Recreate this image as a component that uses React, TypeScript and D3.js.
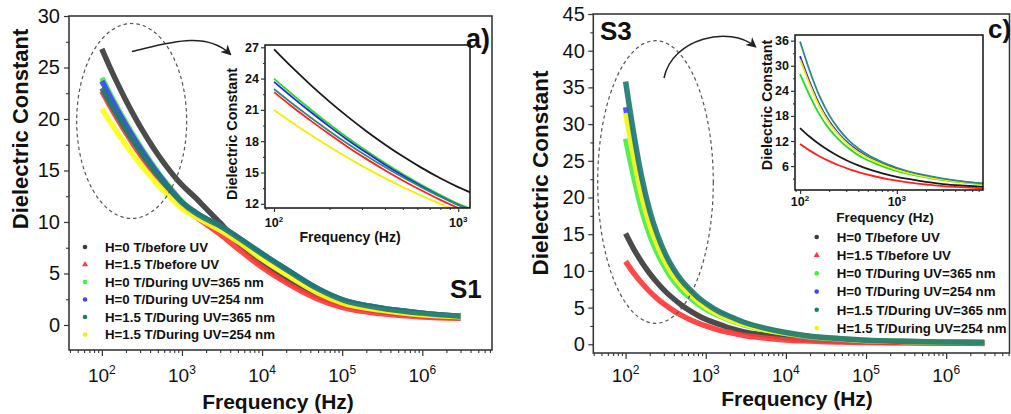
import React, { useEffect, useRef } from 'react';
import * as d3 from 'd3';

// ---------- data ----------
const FREQ = [100, 125, 160, 200, 250, 320, 400, 500, 630, 800, 1000, 1500, 2000, 3000, 5000, 1e4, 2e4, 5e4, 1e5, 3e5, 1e6, 3e6];

const LEGEND = [
  'H=0 T/before UV',
  'H=1.5 T/before UV',
  'H=0 T/During UV=365 nm',
  'H=0 T/During UV=254 nm',
  'H=1.5 T/During UV=365 nm',
  'H=1.5 T/During UV=254 nm',
];
const BAND_COLORS = ['#3c3c3c', '#ff3a3a', '#44ee44', '#4444ff', '#1f7b72', '#ffff1e'];
const LINE_COLORS = ['#1a1a1a', '#ff2020', '#22dd22', '#2424ee', '#2e8a80', '#f0f000'];
const MARKERS = ['circle', 'triangle', 'circle', 'circle', 'circle', 'circle'];
const DRAW_ORDER = [0, 1, 2, 3, 5, 4];

// S1 (panel a)
const S1_H0_BEFORE = [26.8, 25.09, 23.31, 21.8, 20.38, 18.91, 17.69, 16.55, 15.47, 14.45, 13.6, 12.3, 11.3, 9.9, 8.0, 5.9, 4.4, 2.8, 2.0, 1.3, 0.9, 0.7];
const S1_H15_BEFORE = [22.7, 21.33, 19.9, 18.66, 17.48, 16.26, 15.22, 14.24, 13.3, 12.38, 11.6, 10.5, 9.8, 8.8, 7.4, 5.6, 4.1, 2.5, 1.7, 1.1, 0.78, 0.65];
const S1_H0_UV365 = [24.0, 22.52, 20.97, 19.63, 18.36, 17.04, 15.91, 14.85, 13.83, 12.85, 12.0, 10.9, 10.3, 9.6, 8.5, 6.9, 5.4, 3.5, 2.45, 1.65, 1.15, 0.85];
const S1_H0_UV254 = [23.7, 22.25, 20.72, 19.4, 18.15, 16.86, 15.75, 14.71, 13.7, 12.73, 11.9, 10.9, 10.3, 9.6, 8.5, 6.9, 5.4, 3.5, 2.45, 1.65, 1.15, 0.85];
const S1_H15_UV365 = [23.0, 21.63, 20.2, 18.96, 17.78, 16.56, 15.52, 14.54, 13.6, 12.68, 11.9, 10.85, 10.3, 9.6, 8.5, 6.9, 5.4, 3.5, 2.45, 1.65, 1.15, 0.85];
const S1_H15_UV254 = [21.0, 19.8, 18.55, 17.47, 16.44, 15.37, 14.46, 13.61, 12.78, 11.99, 11.3, 10.5, 9.95, 9.2, 8.1, 6.4, 4.9, 3.1, 2.15, 1.45, 1.0, 0.8];

// S3 (panel c)
const S3_H0_BEFORE = [15.1, 13.08, 11.15, 9.65, 8.35, 7.11, 6.17, 5.33, 4.59, 3.93, 3.4, 2.7, 2.2, 1.7, 1.3, 0.9, 0.65, 0.42, 0.33, 0.24, 0.2, 0.18];
const S3_H15_BEFORE = [11.3, 9.76, 8.31, 7.18, 6.2, 5.28, 4.56, 3.94, 3.39, 2.9, 2.5, 1.9, 1.6, 1.2, 0.9, 0.6, 0.45, 0.3, 0.25, 0.2, 0.15, 0.12];
const S3_H0_UV365 = [28.0, 23.0, 18.2, 14.9, 12.4, 10.2, 8.6, 7.4, 6.4, 5.5, 4.8, 3.85, 3.3, 2.65, 2.05, 1.45, 1.0, 0.7, 0.5, 0.38, 0.3, 0.25];
const S3_H0_UV254 = [32.3, 26.3, 20.6, 16.7, 13.8, 11.3, 9.6, 8.2, 7.1, 6.1, 5.3, 4.2, 3.6, 2.9, 2.2, 1.55, 1.05, 0.72, 0.52, 0.38, 0.3, 0.25];
const S3_H15_UV365 = [35.8, 29.0, 22.6, 18.2, 14.9, 12.1, 10.2, 8.7, 7.5, 6.4, 5.6, 4.4, 3.8, 3.0, 2.3, 1.6, 1.1, 0.75, 0.55, 0.4, 0.3, 0.25];
const S3_H15_UV254 = [31.5, 25.7, 20.1, 16.3, 13.5, 11.0, 9.3, 8.0, 6.9, 5.9, 5.1, 4.0, 3.4, 2.75, 2.1, 1.5, 1.05, 0.72, 0.52, 0.38, 0.3, 0.25];

const S1_SERIES = [S1_H0_BEFORE, S1_H15_BEFORE, S1_H0_UV365, S1_H0_UV254, S1_H15_UV365, S1_H15_UV254];
const S3_SERIES = [S3_H0_BEFORE, S3_H15_BEFORE, S3_H0_UV365, S3_H0_UV254, S3_H15_UV365, S3_H15_UV254];

const MAIN_X_MAJOR = [1e2, 1e3, 1e4, 1e5, 1e6];
const S1_Y_TICKS = [0, 5, 10, 15, 20, 25, 30];
const S3_Y_TICKS = [0, 5, 10, 15, 20, 25, 30, 35, 40, 45];
const S1_INSET_Y_TICKS = [12, 15, 18, 21, 24, 27];
const S3_INSET_Y_TICKS = [6, 12, 18, 24, 30, 36];
const INSET_X_MAJOR = [1e2, 1e3];

const FONT = '"Liberation Sans", Arial, Helvetica, sans-serif';

type Box = { x0: number; x1: number; y0: number; y1: number };

function logMinor(domain: [number, number]) {
  const out: number[] = [];
  for (let e = 0; e < 8; e++) {
    for (let k = 2; k <= 9; k++) {
      const v = k * Math.pow(10, e);
      if (v >= domain[0] && v <= domain[1]) out.push(v);
    }
  }
  return out;
}

function minorLinear(ticks: number[], domain: [number, number], step: number) {
  const out: number[] = [];
  for (let v = ticks[0] - step * 4; v <= domain[1]; v += step) {
    const r = Math.round(v * 1000) / 1000;
    if (r >= domain[0] && r <= domain[1] && !ticks.some((t) => Math.abs(t - r) < 1e-6)) out.push(r);
  }
  return out;
}

function supLabel(g: any, x: number, y: number, exp: number, size: number, supSize: number, bold: boolean, supDy: number) {
  const t = g
    .append('text')
    .attr('x', x)
    .attr('y', y)
    .attr('text-anchor', 'middle')
    .attr('font-family', FONT)
    .attr('font-size', size)
    .attr('font-weight', bold ? 'bold' : 'normal')
    .attr('fill', '#111');
  t.append('tspan').text('10');
  t.append('tspan').attr('font-size', supSize).attr('dy', -supDy).text(String(exp));
}

function drawPanel(
  svg: any,
  id: string,
  box: Box,
  xd: [number, number],
  yd: [number, number],
  yTicks: number[],
  yMinorStep: number,
  xMajor: number[],
  series: number[][],
  inset: boolean,
  opts: any
) {
  const g = svg.append('g');
  const xs = d3.scaleLog().domain(xd).range([box.x0, box.x1]);
  const ys = d3.scaleLinear().domain(yd).range([box.y1, box.y0]);

  g.append('clipPath')
    .attr('id', id)
    .append('rect')
    .attr('x', box.x0)
    .attr('y', box.y0)
    .attr('width', box.x1 - box.x0)
    .attr('height', box.y1 - box.y0);

  const line = d3
    .line<number>()
    .x((_d, i) => xs(FREQ[i]))
    .y((d) => ys(d))
    .curve(d3.curveMonotoneX);
  const dataG = g.append('g').attr('clip-path', `url(#${id})`);
  DRAW_ORDER.forEach((si) => {
    dataG
      .append('path')
      .attr('d', line(series[si]))
      .attr('fill', 'none')
      .attr('stroke', inset ? LINE_COLORS[si] : BAND_COLORS[si])
      .attr('stroke-width', inset ? 1.8 : 5.5)
      .attr('stroke-opacity', inset ? 1 : 0.92);
  });

  g.append('rect')
    .attr('x', box.x0)
    .attr('y', box.y0)
    .attr('width', box.x1 - box.x0)
    .attr('height', box.y1 - box.y0)
    .attr('fill', 'none')
    .attr('stroke', inset ? '#111' : '#3a3a3a')
    .attr('stroke-width', inset ? 1.5 : 1.6);

  const majorLen = inset ? 4 : 5;
  const minorLen = inset ? 2 : 3;

  const yAx = g
    .append('g')
    .attr('transform', `translate(${box.x0},0)`)
    .call(
      d3
        .axisLeft(ys)
        .tickValues(yTicks)
        .tickSize(majorLen)
        .tickPadding(opts.yPad)
        .tickFormat((d: any) => String(d))
    );
  yAx.select('.domain').remove();
  yAx.selectAll('line').attr('stroke', '#333').attr('stroke-width', 1.2);
  yAx.selectAll('text')
    .attr('font-family', FONT)
    .attr('font-size', opts.yFont)
    .attr('font-weight', inset ? 'bold' : 'normal')
    .attr('fill', '#111');
  const yMinor = g
    .append('g')
    .attr('transform', `translate(${box.x0},0)`)
    .call(d3.axisLeft(ys).tickValues(minorLinear(yTicks, yd, yMinorStep)).tickSize(minorLen).tickFormat(() => ''));
  yMinor.select('.domain').remove();
  yMinor.selectAll('line').attr('stroke', '#333').attr('stroke-width', 1.1);

  const xAx = g
    .append('g')
    .attr('transform', `translate(0,${box.y1})`)
    .call(d3.axisBottom(xs).tickValues(xMajor).tickSize(inset ? 4 : 6).tickFormat(() => ''));
  xAx.select('.domain').remove();
  xAx.selectAll('line').attr('stroke', '#333').attr('stroke-width', 1.2);
  const xMin = g
    .append('g')
    .attr('transform', `translate(0,${box.y1})`)
    .call(d3.axisBottom(xs).tickValues(logMinor(xd)).tickSize(minorLen).tickFormat(() => ''));
  xMin.select('.domain').remove();
  xMin.selectAll('line').attr('stroke', '#333').attr('stroke-width', 1.1);

  xMajor.forEach((v) => {
    supLabel(g, xs(v), opts.xLabelY, Math.round(Math.log10(v)), opts.xFont, opts.xSup, inset, opts.supDy);
  });

  g.append('text')
    .attr('x', opts.xTitle[0])
    .attr('y', opts.xTitle[1])
    .attr('text-anchor', 'middle')
    .attr('font-family', FONT)
    .attr('font-weight', 'bold')
    .attr('font-size', opts.titleFont)
    .attr('fill', '#111')
    .text('Frequency (Hz)');
  g.append('text')
    .attr('transform', `translate(${opts.yTitle[0]},${opts.yTitle[1]}) rotate(-90)`)
    .attr('text-anchor', 'middle')
    .attr('font-family', FONT)
    .attr('font-weight', 'bold')
    .attr('font-size', opts.yTitleFont)
    .attr('fill', '#111')
    .text('Dielectric Constant');
}

function drawLegend(svg: any, x: number, y0: number, dy: number) {
  const g = svg.append('g');
  LEGEND.forEach((label, i) => {
    const y = y0 + i * dy;
    if (MARKERS[i] === 'triangle') {
      g.append('path')
        .attr('d', d3.symbol().type(d3.symbolTriangle).size(16)())
        .attr('transform', `translate(${x},${y})`)
        .attr('fill', BAND_COLORS[i]);
    } else {
      g.append('circle').attr('cx', x).attr('cy', y).attr('r', 2.3).attr('fill', BAND_COLORS[i] === '#ffff1e' ? '#f5f500' : BAND_COLORS[i]);
    }
    g.append('text')
      .attr('x', x + 20)
      .attr('y', y)
      .attr('dy', '0.36em')
      .attr('font-family', FONT)
      .attr('font-weight', 'bold')
      .attr('font-size', 13.3)
      .attr('fill', '#111')
      .text(label);
  });
}

function label(svg: any, x: number, y: number, text: string, size: number, anchor = 'start') {
  svg
    .append('text')
    .attr('x', x)
    .attr('y', y)
    .attr('text-anchor', anchor)
    .attr('font-family', FONT)
    .attr('font-weight', 'bold')
    .attr('font-size', size)
    .attr('fill', '#111')
    .text(text);
}

export default function App() {
  const ref = useRef<SVGSVGElement>(null);
  useEffect(() => {
    const svg = d3.select(ref.current);
    svg.selectAll('*').remove();

    const defs = svg.append('defs');
    defs
      .append('marker')
      .attr('id', 'arrow')
      .attr('viewBox', '0 0 10 10')
      .attr('refX', 8)
      .attr('refY', 5)
      .attr('markerWidth', 7)
      .attr('markerHeight', 7)
      .attr('orient', 'auto')
      .append('path')
      .attr('d', 'M0,0 L10,5 L0,10 L3,5 z')
      .attr('fill', '#222');

    drawPanel(svg, 'clipA', { x0: 69, x1: 492, y0: 16, y1: 350 }, [Math.pow(10, 1.59), Math.pow(10, 6.87)], [-2.43, 30], S1_Y_TICKS, 2.5, MAIN_X_MAJOR, S1_SERIES, false, {
      yPad: 4, yFont: 20, xLabelY: 382, xFont: 19, xSup: 12, supDy: 8, xTitle: [278, 409], titleFont: 21, yTitle: [28, 129], yTitleFont: 22,
    });
    drawPanel(svg, 'clipAi', { x0: 265, x1: 470, y0: 45, y1: 208 }, [Math.pow(10, 1.951), Math.pow(10, 3.064)], [11.6, 27.22], S1_INSET_Y_TICKS, 1.5, INSET_X_MAJOR, S1_SERIES, true, {
      yPad: 2, yFont: 12.5, xLabelY: 227, xFont: 12.5, xSup: 8, supDy: 5, xTitle: [350, 242], titleFont: 14, yTitle: [236.5, 134], yTitleFont: 14.5,
    });

    drawPanel(svg, 'clipC', { x0: 593.3, x1: 1009.5, y0: 14, y1: 353 }, [Math.pow(10, 1.597), Math.pow(10, 6.79)], [-1.185, 45], S3_Y_TICKS, 2.5, MAIN_X_MAJOR, S3_SERIES, false, {
      yPad: 3.5, yFont: 20, xLabelY: 382, xFont: 19, xSup: 12, supDy: 8, xTitle: [797, 406], titleFont: 21, yTitle: [548, 173], yTitleFont: 22.5,
    });
    drawPanel(svg, 'clipCi', { x0: 795, x1: 983, y0: 35, y1: 190 }, [Math.pow(10, 1.948), Math.pow(10, 3.89)], [0.28, 37.36], S3_INSET_Y_TICKS, 3, INSET_X_MAJOR, S3_SERIES, true, {
      yPad: 2, yFont: 12.5, xLabelY: 206, xFont: 12.5, xSup: 8, supDy: 5, xTitle: [885, 222], titleFont: 13.5, yTitle: [771.5, 105], yTitleFont: 14.3,
    });

    svg.append('ellipse').attr('cx', 131.7).attr('cy', 121).attr('rx', 55).attr('ry', 97.5)
      .attr('fill', 'none').attr('stroke', '#555').attr('stroke-width', 1.2).attr('stroke-dasharray', '3.5,3');
    svg.append('ellipse').attr('cx', 655.5).attr('cy', 182).attr('rx', 57.8).attr('ry', 141.3)
      .attr('fill', 'none').attr('stroke', '#555').attr('stroke-width', 1.2).attr('stroke-dasharray', '3.5,3');

    svg.append('path').attr('d', 'M132,51.5 C165,44 205,30 230,54')
      .attr('fill', 'none').attr('stroke', '#222').attr('stroke-width', 1.5).attr('marker-end', 'url(#arrow)');
    svg.append('path').attr('d', 'M664,78 C672,38 730,25 755,46.5')
      .attr('fill', 'none').attr('stroke', '#222').attr('stroke-width', 1.5).attr('marker-end', 'url(#arrow)');

    drawLegend(svg, 85, 247, 17.5);
    drawLegend(svg, 816.7, 237, 18.2);

    label(svg, 490, 47.5, 'a)', 27, 'end');
    label(svg, 450, 298, 'S1', 26);
    label(svg, 600, 40, 'S3', 26);
    label(svg, 988, 38, 'c)', 26);
  }, []);

  return (
    <svg
      ref={ref}
      width={1011}
      height={414}
      style={{ position: 'absolute', left: 0, top: 0, background: '#fff' }}
    />
  );
}
